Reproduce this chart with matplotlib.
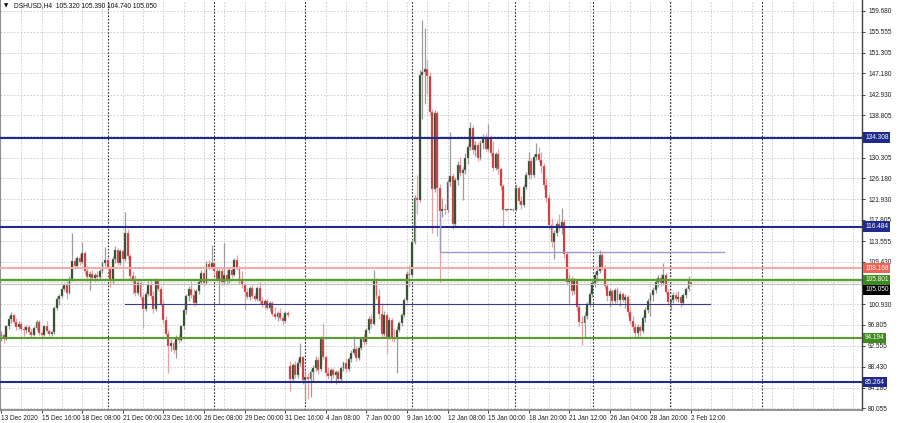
import numpy as np
import matplotlib
matplotlib.use("Agg")
import matplotlib.pyplot as plt
from matplotlib.transforms import blended_transform_factory

plt.rcParams['font.family'] = ['Liberation Sans', 'DejaVu Sans']

# ---------------- data (DSHUSD, H4) ----------------
opens = [94.5, 94.8, 94.0, 96.5, 98.0, 98.8, 97.4, 96.4, 97.0, 96.0,
 95.7, 96.3, 95.4, 94.8, 96.2, 97.4, 95.2, 94.8, 96.5, 95.6,
 95.0, 95.3, 100.2, 102.0, 102.6, 104.0, 104.8, 103.2, 106.0, 109.5,
 108.6, 110.2, 109.4, 111.2, 107.6, 106.4, 107.0, 106.2, 106.8, 106.4,
 107.6, 109.2, 109.8, 108.0, 105.5, 110.0, 111.8, 109.2, 111.5, 110.0,
 115.2, 110.5, 106.5, 105.5, 103.2, 105.2, 102.4, 100.0, 103.0, 104.8,
 102.5, 100.0, 105.5, 104.0, 101.0, 97.8, 95.0, 92.5, 93.2, 91.8,
 94.2, 93.8, 96.5, 99.8, 102.5, 104.0, 102.8, 101.2, 103.5, 105.4,
 107.2, 105.2, 109.0, 108.4, 109.2, 107.5, 106.0, 107.6, 105.4, 106.8,
 105.6, 107.8, 106.8, 109.8, 108.2, 105.6, 104.8, 103.4, 102.4, 104.2,
 102.6, 102.0, 104.2, 101.6, 101.0, 101.6, 100.2, 101.2, 99.0, 98.4,
 99.2, 98.2, 97.6, 99.2, 88.5, 86.0, 88.8, 86.8, 89.2, 90.3,
 85.8, 86.4, 86.0, 87.4, 88.2, 89.8, 88.0, 94.0, 90.4, 87.2,
 86.6, 87.8, 86.8, 87.4, 86.0, 88.2, 89.2, 88.0, 90.0, 91.2,
 92.0, 90.2, 92.2, 94.0, 93.4, 95.8, 98.0, 97.0, 105.8, 102.6,
 99.0, 95.0, 98.8, 94.4, 97.8, 94.2, 94.0, 95.8, 97.2, 98.8,
 101.8, 107.0, 106.8, 113.4, 122.2, 121.8, 146.8, 147.4, 148.0, 146.6,
 139.4, 124.0, 139.2, 124.2, 119.6, 120.0, 119.8, 125.4, 126.6, 117.0,
 125.8, 128.8, 127.2, 127.8, 130.2, 132.4, 136.2, 131.8, 132.8, 130.2,
 133.2, 134.2, 132.0, 134.4, 131.2, 128.2, 131.0, 128.0, 124.6, 119.8,
 119.8, 119.8, 119.8, 119.8, 124.2, 121.6, 120.8, 124.4, 126.8, 129.6,
 126.8, 130.4, 131.0, 129.8, 128.6, 124.8, 122.2, 116.8, 113.4, 115.2,
 117.0, 116.2, 117.4, 111.0, 105.4, 106.0, 103.6, 105.6, 100.4, 97.4,
 97.2, 98.6, 101.0, 103.0, 105.2, 106.8, 107.6, 110.8, 108.4, 104.6,
 102.6, 103.6, 101.6, 103.8, 101.8, 103.0, 101.8, 102.4, 99.4, 97.6,
 96.4, 95.2, 96.4, 95.6, 98.2, 99.8, 101.6, 102.8, 103.8, 105.4,
 106.2, 105.2, 106.8, 103.4, 101.4, 101.8, 102.8, 102.0, 102.4, 101.2,
 102.8, 104.0, 105.32]

highs = [95.5, 95.2, 96.8, 98.5, 99.3, 99.0, 98.2, 97.5, 97.6, 96.5,
 96.8, 96.8, 96.0, 96.5, 97.8, 97.8, 95.8, 96.8, 97.5, 96.0,
 95.6, 100.5, 102.5, 103.0, 104.5, 105.2, 105.5, 106.5, 115.2, 110.2,
 110.5, 111.0, 113.4, 111.5, 108.5, 107.5, 107.8, 107.2, 107.5, 108.0,
 109.6, 112.3, 110.3, 108.5, 110.5, 112.5, 112.2, 112.0, 112.0, 119.4,
 116.0, 111.0, 107.5, 106.8, 105.8, 105.6, 103.0, 103.5, 105.5, 105.8,
 103.5, 106.2, 106.0, 104.6, 101.8, 98.5, 95.8, 94.0, 93.6, 94.8,
 95.0, 96.8, 100.2, 103.0, 104.5, 105.5, 104.0, 104.0, 105.8, 107.8,
 107.8, 109.5, 109.8, 112.7, 109.6, 108.4, 108.0, 108.2, 113.2, 108.0,
 108.2, 108.5, 110.2, 110.7, 108.6, 107.5, 105.2, 104.2, 104.6, 104.8,
 103.2, 104.6, 105.3, 102.4, 102.0, 102.0, 101.6, 101.6, 100.4, 99.6,
 100.2, 98.8, 99.6, 99.6, 89.5, 89.2, 89.5, 90.0, 93.1, 90.6,
 87.5, 87.2, 88.0, 88.8, 90.5, 90.4, 94.5, 97.1, 90.8, 88.4,
 88.2, 88.2, 87.8, 87.8, 88.6, 89.6, 90.2, 90.4, 91.8, 94.6,
 92.6, 92.5, 94.4, 95.0, 96.2, 98.6, 99.0, 107.7, 106.2, 104.0,
 101.2, 99.5, 99.2, 98.4, 98.2, 96.0, 96.6, 97.6, 99.2, 102.2,
 107.6, 108.8, 114.0, 122.8, 126.8, 147.8, 157.9, 156.3, 149.9, 147.5,
 140.0, 139.8, 139.6, 125.0, 122.2, 121.0, 126.0, 135.4, 127.2, 126.4,
 129.6, 130.4, 128.4, 131.2, 133.0, 137.4, 136.8, 133.6, 133.4, 133.8,
 135.0, 135.2, 137.0, 134.8, 133.6, 131.4, 132.0, 128.4, 125.0, 120.0,
 119.9, 119.9, 120.0, 125.0, 124.6, 122.6, 125.0, 127.4, 131.4, 130.2,
 131.0, 133.2, 132.4, 131.4, 129.2, 126.2, 123.0, 118.2, 115.8, 117.6,
 119.0, 120.2, 118.0, 111.6, 107.0, 106.6, 106.2, 106.0, 101.0, 98.6,
 99.4, 101.4, 103.6, 105.8, 107.4, 108.6, 111.7, 111.2, 108.8, 105.0,
 104.2, 104.0, 104.2, 104.4, 103.6, 103.4, 103.0, 102.8, 100.4, 98.6,
 97.2, 97.0, 96.8, 98.6, 100.4, 102.2, 103.4, 104.4, 106.0, 106.8,
 107.0, 109.1, 107.2, 104.0, 102.2, 103.4, 103.4, 103.6, 102.8, 103.2,
 104.4, 106.5, 105.39]

lows = [93.5, 93.2, 93.8, 96.0, 97.2, 97.0, 95.8, 96.0, 95.5, 94.6,
 95.2, 95.0, 94.2, 94.5, 95.8, 94.8, 94.2, 94.5, 95.2, 94.6,
 94.5, 95.0, 99.8, 100.8, 102.2, 103.5, 102.0, 103.0, 105.5, 108.0,
 108.2, 108.8, 109.0, 107.0, 105.5, 103.7, 105.8, 105.5, 106.0, 106.0,
 107.2, 108.6, 107.5, 104.3, 105.0, 109.2, 108.8, 108.8, 105.7, 109.5,
 110.0, 106.0, 103.0, 102.5, 102.8, 101.7, 96.1, 99.5, 102.5, 102.0,
 99.2, 99.5, 103.5, 100.5, 97.0, 94.5, 87.1, 91.5, 91.2, 90.1,
 93.2, 93.5, 96.0, 99.0, 101.5, 102.2, 100.5, 100.8, 103.0, 105.0,
 104.5, 105.0, 107.8, 108.0, 107.0, 105.5, 101.0, 104.8, 105.0, 104.8,
 105.2, 106.2, 106.5, 107.8, 105.0, 104.2, 99.7, 102.0, 101.8, 102.2,
 101.6, 101.6, 101.0, 100.4, 100.2, 99.8, 99.6, 98.6, 98.0, 97.5,
 97.8, 96.7, 97.2, 98.4, 83.6, 85.5, 86.2, 86.2, 88.6, 85.0,
 81.6, 82.0, 82.4, 85.5, 87.6, 87.0, 87.5, 90.0, 86.5, 86.0,
 85.2, 86.2, 85.0, 85.4, 85.6, 87.6, 87.4, 87.6, 89.4, 90.8,
 89.6, 89.8, 91.8, 92.8, 93.0, 95.2, 96.2, 96.8, 102.0, 98.0,
 94.2, 94.6, 91.0, 94.0, 93.6, 93.4, 87.1, 95.4, 96.6, 98.4,
 101.4, 104.4, 106.4, 113.0, 119.0, 121.4, 138.0, 141.0, 143.0, 138.6,
 115.2, 123.4, 114.6, 105.3, 118.4, 119.0, 119.4, 124.6, 116.0, 116.4,
 124.8, 126.6, 121.8, 127.0, 129.0, 131.8, 131.0, 130.6, 129.6, 129.8,
 132.0, 131.6, 131.6, 130.6, 127.6, 127.8, 127.0, 123.8, 116.4, 119.6,
 119.7, 119.7, 119.6, 119.6, 121.0, 120.0, 120.4, 124.0, 126.2, 126.0,
 126.4, 129.8, 129.4, 127.2, 124.0, 121.4, 116.0, 112.4, 110.0, 114.6,
 115.6, 115.0, 110.2, 104.8, 101.2, 102.8, 103.0, 99.6, 96.6, 92.7,
 94.2, 98.0, 100.4, 102.4, 104.4, 105.6, 107.2, 107.8, 104.0, 101.6,
 100.4, 101.0, 101.2, 101.2, 100.6, 101.4, 100.2, 98.6, 97.0, 95.6,
 94.3, 94.4, 94.6, 95.2, 97.4, 99.2, 98.6, 101.6, 103.2, 104.4,
 104.6, 104.8, 103.0, 100.8, 99.7, 101.2, 101.6, 101.4, 100.4, 100.8,
 102.2, 103.6, 104.74]

closes = [94.8, 94.0, 96.5, 98.0, 98.8, 97.4, 96.4, 97.0, 96.0, 95.7,
 96.3, 95.4, 94.8, 96.2, 97.4, 95.2, 94.8, 96.5, 95.6, 95.0,
 95.3, 100.2, 102.0, 102.6, 104.0, 104.8, 103.2, 106.0, 109.5, 108.6,
 110.2, 109.4, 111.2, 107.6, 106.4, 107.0, 106.2, 106.8, 106.4, 107.6,
 109.2, 109.8, 108.0, 105.5, 110.0, 111.8, 109.2, 111.5, 110.0, 115.2,
 110.5, 106.5, 105.5, 103.2, 105.2, 102.4, 100.0, 103.0, 104.8, 102.5,
 100.0, 105.5, 104.0, 101.0, 97.8, 95.0, 92.5, 93.2, 91.8, 94.2,
 93.8, 96.5, 99.8, 102.5, 104.0, 102.8, 101.2, 103.5, 105.4, 107.2,
 105.2, 109.0, 108.4, 109.2, 107.5, 106.0, 107.6, 105.4, 106.8, 105.6,
 107.8, 106.8, 109.8, 108.2, 105.6, 104.8, 103.4, 102.4, 104.2, 102.6,
 102.0, 104.2, 101.6, 101.0, 101.6, 100.2, 101.2, 99.0, 98.4, 99.2,
 98.2, 97.6, 99.2, 98.8, 86.0, 88.8, 86.8, 89.2, 90.3, 85.8,
 86.4, 86.0, 87.4, 88.2, 89.8, 87.8, 94.0, 90.4, 87.2, 86.6,
 87.8, 86.8, 87.4, 86.0, 88.2, 89.2, 88.0, 90.0, 91.2, 92.0,
 90.2, 92.2, 94.0, 93.4, 95.8, 98.0, 97.0, 105.8, 102.6, 99.0,
 95.0, 98.8, 94.4, 97.8, 94.2, 94.0, 95.8, 97.2, 98.8, 101.8,
 107.0, 106.8, 113.4, 122.2, 121.8, 146.8, 147.4, 148.0, 146.6, 139.4,
 124.0, 139.2, 124.2, 119.6, 120.0, 119.8, 125.4, 126.6, 117.0, 125.8,
 128.8, 127.2, 127.8, 130.2, 132.4, 136.2, 131.8, 132.8, 130.2, 133.2,
 134.2, 132.0, 134.4, 131.2, 128.2, 131.0, 128.0, 124.6, 119.8, 119.8,
 119.8, 119.8, 119.8, 124.2, 121.6, 120.8, 124.4, 126.8, 129.6, 126.8,
 130.4, 131.0, 129.8, 128.6, 124.8, 122.2, 116.8, 113.4, 115.2, 117.0,
 116.2, 117.4, 111.0, 105.4, 106.0, 103.6, 105.6, 100.4, 97.4, 97.2,
 98.6, 101.0, 103.0, 105.2, 106.8, 107.6, 110.8, 108.4, 104.6, 102.6,
 103.6, 101.6, 103.8, 101.8, 103.0, 101.8, 102.4, 99.4, 97.6, 96.4,
 95.2, 96.4, 95.6, 98.2, 99.8, 101.6, 102.8, 103.8, 105.4, 106.2,
 105.2, 106.8, 103.4, 101.4, 101.8, 102.8, 102.0, 102.4, 101.2, 102.8,
 104.0, 105.6, 105.05]

time_labels = ["13 Dec 2020", "15 Dec 16:00", "18 Dec 08:00", "21 Dec 00:00",
               "23 Dec 16:00", "26 Dec 08:00", "29 Dec 00:00", "31 Dec 16:00",
               "4 Jan 08:00", "7 Jan 00:00", "9 Jan 16:00", "12 Jan 08:00",
               "15 Jan 00:00", "18 Jan 20:00", "21 Jan 12:00", "26 Jan 04:00",
               "28 Jan 20:00", "2 Feb 12:00"]
label_every = 16
separators = [42, 84, 120, 162, 202.6, 233.3, 263.7, 300]

price_ticks = [159.680, 155.555, 151.305, 147.180, 142.930, 138.805, 134.555,
               130.305, 126.180, 121.930, 117.805, 113.555, 109.430, 105.305,
               100.930, 96.805, 92.555, 88.430, 84.180, 80.055]
hidden_ticks = [134.555, 105.305]

levels = [  # price, line colour, line width, label box colour
    (134.308, '#1f2a8c', 1.5, '#1f2a8c'),
    (116.484, '#1f2a8c', 1.5, '#1f2a8c'),
    (108.168, '#f5aaa4', 1.4, '#f26355'),
    (105.801, '#5a9e2e', 1.7, '#3d8a1e'),
    (94.194, '#5a9e2e', 1.5, '#3d8a1e'),
    (85.264, '#1f2a8c', 1.5, '#1f2a8c'),
]
bid = 105.050
seg_dark = ([48.9, 279.5], [101.0, 101.0])
seg_light = ([173, 173, 285], [119.4, 111.35, 111.35])

title = "DSHUSD,H4  105.320 105.390 104.740 105.050"

# ---------------- figure ----------------
W, H = 900, 423
fig = plt.figure(figsize=(W / 100, H / 100), dpi=100)
ax = fig.add_axes([0, 13 / H, 862 / W, 410 / H])

px_per_bar = 2.537
ax.set_xlim(-1 / px_per_bar, 861 / px_per_bar)
ax.set_ylim(79.72, 161.884)

# grid
for gx in np.arange(8, 340, 8):
    ax.axvline(gx, color='#c8c8c8', lw=0.6, ls=(0, (2, 2)), zorder=0)
for gy in price_ticks:
    ax.axhline(gy, color='#c8c8c8', lw=0.6, ls=(0, (2, 2)), zorder=0)
for sx in separators:
    ax.axvline(sx, color='#303030', lw=0.8, ls=(0, (1.5, 1.5)), zorder=0.5)

# candles
n = min(len(opens), len(highs), len(lows), len(closes))
o = np.array(opens[:n]); h = np.array(highs[:n]); l = np.array(lows[:n]); c = np.array(closes[:n])
x = np.arange(n)
up = c >= o
wick_cols = np.where(up, '#9c9c9c', '#e8a0a0')
body_cols = np.where(up, '#1f3f1a', '#c62a30')
ax.vlines(x, l, h, colors=wick_cols, linewidth=0.9, zorder=2)
heights = np.maximum(np.abs(c - o), 0.22)
ax.bar(x, heights, bottom=np.minimum(o, c), width=0.76, color=body_cols,
       edgecolor=wick_cols, linewidth=0.3, zorder=2.5)

# horizontal levels
for p, lc, lw, bc in levels:
    ax.axhline(p, color=lc, lw=lw, zorder=3)
ax.axhline(bid, color='#c0c0c0', lw=0.8, zorder=2.8)
ax.plot(*seg_dark, color='#3c3c8c', lw=0.8, zorder=3)
ax.plot(*seg_light, color='#9a9ac8', lw=1.0, zorder=3)

# axes styling
ax.spines['top'].set_visible(False)
ax.spines['left'].set_color('#909090')
ax.spines['right'].set_color('#404040')
ax.spines['bottom'].set_color('#808080')
ax.spines['left'].set_linewidth(0.8)
ax.spines['right'].set_linewidth(1.0)
ax.spines['bottom'].set_linewidth(1.2)

ax.yaxis.tick_right()
ax.set_yticks(price_ticks)
ax.set_yticklabels(['' if t in hidden_ticks else f"{t:.3f}" for t in price_ticks])
ax.tick_params(axis='y', labelsize=4.7, length=2.5, width=0.6, pad=2, colors='#202020')

xt = [i * label_every for i in range(len(time_labels))]
ax.set_xticks(xt)
ax.set_xticklabels(time_labels, ha='left')
ax.tick_params(axis='x', labelsize=4.7, length=2.5, width=0.6, pad=1, colors='#202020')

# price label boxes on the axis
tr = blended_transform_factory(ax.transAxes, ax.transData)
box_items = [(p, p, bc) for p, lc, lw, bc in levels]
box_items.append((bid, bid - 1.25, '#000000'))   # bid box nudged below the green one
for p, ypos, bc in sorted(box_items, key=lambda t: t[0]):
    ax.text(1.0035, ypos, f"{p:.3f}", transform=tr, ha='left', va='center',
            fontsize=4.7, color='white', clip_on=False, zorder=10,
            bbox=dict(boxstyle='square,pad=0.25', fc=bc, ec='none'))

# title
fig.text(4 / W, 1 - 6 / H, "\u25bc", fontsize=4, va='center', ha='left', color='#101010',
         family=['DejaVu Sans'])
fig.text(14 / W, 1 - 6 / H, title, fontsize=4.8, va='center', ha='left', color='#101010')

fig.savefig("out.png", dpi=100, facecolor='white')
